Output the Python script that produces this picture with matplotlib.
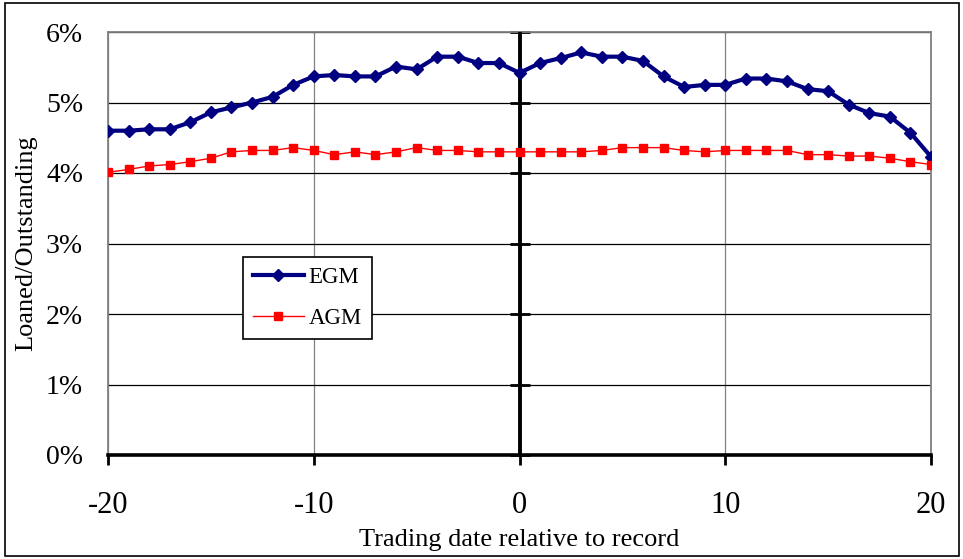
import matplotlib
matplotlib.use('Agg')
import matplotlib.pyplot as plt
from matplotlib.patches import Rectangle
from matplotlib.ticker import FuncFormatter

days = list(range(-20, 21))
egm = [4.60, 4.60, 4.62, 4.62, 4.72, 4.86, 4.93, 5.00, 5.08, 5.25,
       5.37, 5.39, 5.37, 5.37, 5.51, 5.47, 5.65, 5.65, 5.56, 5.56,
       5.42, 5.56, 5.63, 5.71, 5.65, 5.65, 5.59, 5.37, 5.22, 5.25,
       5.25, 5.34, 5.34, 5.30, 5.19, 5.16, 4.97, 4.85, 4.80, 4.57, 4.23]
agm = [4.01, 4.05, 4.10, 4.12, 4.16, 4.21, 4.30, 4.32, 4.32, 4.36,
       4.32, 4.26, 4.30, 4.26, 4.30, 4.36, 4.32, 4.32, 4.30, 4.30,
       4.30, 4.30, 4.30, 4.30, 4.32, 4.36, 4.36, 4.36, 4.32, 4.30,
       4.32, 4.32, 4.32, 4.32, 4.26, 4.26, 4.24, 4.24, 4.21, 4.16, 4.12]
xticks = [-20, -10, 0, 10, 20]
yticks = [0, 1, 2, 3, 4, 5, 6]

plt.rcParams['font.family'] = ['Liberation Serif', 'DejaVu Serif']
plt.rcParams['axes.unicode_minus'] = False

fig = plt.figure(figsize=(9.63, 5.59), dpi=100)
ax = fig.add_axes([108 / 963, 1 - 455 / 559, 823 / 963, 423 / 559])

# outer frame of the picture
fig.patches.append(Rectangle((5 / 963, 3 / 559), 954 / 963, 553 / 559,
                             transform=fig.transFigure, fill=False,
                             edgecolor='black', linewidth=1.2))

ax.plot(days, egm, color='#000080', lw=3, marker='D', markersize=6.3,
        label='EGM', zorder=4)
ax.plot(days, agm, color='#ff0000', lw=1, marker='s', markersize=6,
        label='AGM', zorder=4)

ax.set_xlim(-20, 20)
ax.set_ylim(0, 6)
ax.set_xticks(xticks)
ax.set_yticks(yticks)
ax.yaxis.set_major_formatter(FuncFormatter(lambda v, p: '%d%%' % v))

ax.yaxis.grid(True, color='black', lw=0.9)
ax.xaxis.grid(True, color='#808080', lw=0.9)
ax.set_axisbelow(True)

for s in ['top', 'right', 'left']:
    ax.spines[s].set_color('#808080')
    ax.spines[s].set_linewidth(1.3)
ax.spines['bottom'].set_linewidth(2.6)

ax.tick_params(axis='y', length=0, pad=18, labelsize=20)
ax.tick_params(axis='x', direction='out', length=7, width=2, pad=19,
               labelsize=22)

# vertical axis crossing at day 0
ax.axvline(0, color='black', lw=2.8, zorder=3)
sec = ax.secondary_yaxis(0.5)
sec.set_yticks(yticks)
sec.set_yticklabels([])
sec.tick_params(direction='inout', length=14, width=2,
                labelleft=False, labelright=False)

ax.set_xlabel('Trading date relative to record', fontsize=19)
ax.set_ylabel('Loaned/Outstanding', fontsize=19)
ax.xaxis.set_label_coords(0.5, -0.174)
ax.yaxis.set_label_coords(-0.086, 0.5)

leg = ax.legend(loc='upper left', bbox_to_anchor=(0.164, 0.468),
                borderaxespad=0, fancybox=False, framealpha=1,
                edgecolor='black', fontsize=16.5, handlelength=2.2,
                handletextpad=0.2, labelspacing=0.85, borderpad=0.45)
leg.get_frame().set_linewidth(1.2)

fig.savefig('out.png', dpi=100)
